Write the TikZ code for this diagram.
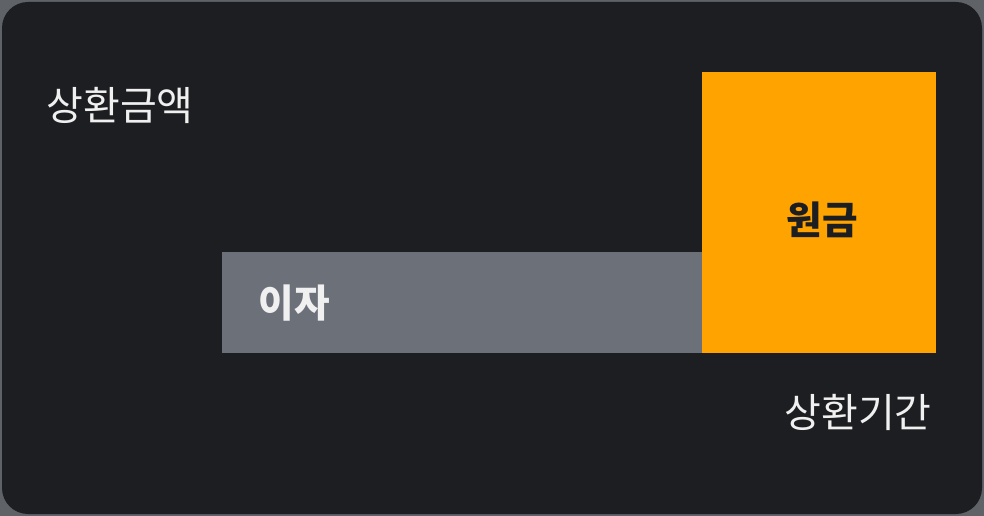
\documentclass[tikz,border=0pt]{standalone}
\usepackage{fontspec}
\newfontfamily\kr{Noto Sans CJK KR}
\usepackage{tikz}

\definecolor{panelbg}{HTML}{1D1E21}
\definecolor{panelrule}{HTML}{5F6368}
\definecolor{interestgray}{HTML}{6C7079}
\definecolor{principalorange}{HTML}{FFA300}
\definecolor{labelwhite}{HTML}{F0F0F0}

\tikzset{
  axislabel/.style={font=\kr\fontsize{30}{33}\selectfont, text=labelwhite, inner sep=0pt},
  barlabel/.style={font=\kr\bfseries\fontsize{29}{32}\selectfont, inner sep=0pt}
}

\begin{document}
\begin{tikzpicture}[x=0.75pt,y=-0.75pt]
      % ---- panel ----------------------------------------
      \useasboundingbox (0,0) rectangle (984,516);
      \fill[panelrule] (0,0) rectangle (984,516);
      \fill[panelbg, rounded corners=19.5pt] (2,2) rectangle (982,514);

      % ---- bars -----------------------------------------
      \fill[interestgray] (222,252) rectangle (702,353);
      \fill[principalorange] (702,72) rectangle (936,353);

      % ---- labels ---------------------------------------
      \node[axislabel] (amount) at (120,105) {상환금액};
      \node[axislabel] (period) at (858,412) {상환기간};
      \node[barlabel, text=labelwhite] (interest) at (294,303) {이자};
      \node[barlabel, text=panelbg] (principal) at (822,220) {원금};
    \end{tikzpicture}
\end{document}
